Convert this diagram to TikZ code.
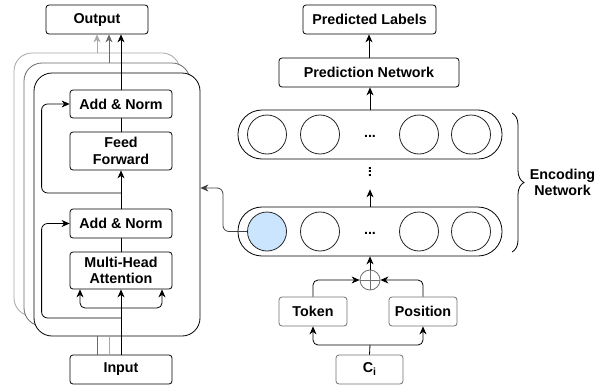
\documentclass[tikz,border=0pt]{standalone}
\usepackage{fontspec}
\setmainfont{Liberation Sans}
\usetikzlibrary{arrows.meta,decorations.pathreplacing}
\definecolor{unitblue}{HTML}{CCE5FF}
\definecolor{backA}{HTML}{A8A8A8}
\definecolor{backB}{HTML}{6A6A6A}
\definecolor{softline}{HTML}{707070}
\tikzset{
  box/.style    = {rectangle, rounded corners=3pt, draw=black, fill=white, inner sep=0pt,
                   minimum width=102pt, align=center, font=\fontsize{14.3}{16.5}\selectfont\bfseries},
  inbox/.style  = {box, draw=softline, minimum width=68pt, minimum height=29pt},
  panel/.style  = {rectangle, rounded corners=18pt, fill=white, inner sep=0pt,
                   minimum width=166pt, minimum height=263pt},
  layer/.style  = {rectangle, rounded corners=24pt, draw=black, fill=white, inner sep=0pt,
                   minimum width=264pt, minimum height=49pt},
  unit/.style   = {circle, draw=black!85, fill=white, minimum size=39pt, inner sep=0pt},
  dots/.style   = {inner sep=0pt, font=\fontsize{14.3}{16.5}\selectfont\bfseries},
  flow/.style   = {-{Stealth[length=8pt,width=7pt,inset=2.5pt]}},
}

\begin{document}
\begin{tikzpicture}[x=1pt, y=-1pt, line width=0.8pt]
      \useasboundingbox (0,0) rectangle (608,391);

      \node[panel, draw=backA] (stack1) at (97,184.5)  {};
      \node[panel, draw=backB] (stack2) at (107,194.5) {};
      \node[panel, draw=black] (stack3) at (117,204.5) {};

      \node[box, minimum height=29pt] (out)   at (97,19.5)   {Output};
      \node[box, minimum height=28pt] (norm2) at (121,104)   {Add \& Norm};
      \node[box, minimum height=38pt] (ffn)   at (121,151)   {Feed\\Forward};
      \node[box, minimum height=29pt] (norm1) at (121,223.5) {Add \& Norm};
      \node[box, minimum height=37pt] (mha)   at (121,270.5) {Multi-Head\\Attention};
      \node[box, minimum height=29pt] (inp)   at (121,369.5) {Input};

      \coordinate (split) at (121,308);
      \coordinate (skip1) at (121,318);
      \coordinate (skip2) at (121,193);

      \draw[flow] (inp.north) -- (mha.south);
      \draw[flow, rounded corners=5pt] (split) -| ([xshift=-41pt]mha.south);
      \draw[flow, rounded corners=5pt] (split) -| ([xshift=41pt]mha.south);
      \draw (mha.north) -- (norm1.south);
      \draw[flow, rounded corners=6pt] (skip1) -| ([xshift=-28pt]norm1.west) -- (norm1.west);
      \draw[flow] (norm1.north) -- (ffn.south);
      \draw (ffn.north) -- (norm2.south);
      \draw[flow, rounded corners=6pt] (skip2) -| ([xshift=-28pt]norm2.west) -- (norm2.west);
      \draw[flow] (norm2.north) -- (norm2.north |- out.south);
      \draw[flow, backB] ([xshift=2pt]stack2.north) -- ([xshift=12pt]out.south);
      \draw[flow, backA] (stack1.north) -- (out.south);
      \draw[backB] ([xshift=-24pt]inp.north) -- ([xshift=-20pt]stack3.south);
      \draw[backA] ([xshift=-12pt]inp.north) -- ([xshift=-8pt]stack3.south);

      \node[box, minimum width=133pt, minimum height=29pt] (labels) at (369.5,19.5) {Predicted Labels};
      \node[box, minimum width=180pt, minimum height=29pt] (pnet)   at (369,72.5)   {Prediction Network};

      \node[layer] (top) at (370,134.5) {};
      \node[unit] (t1) at (267,134.5) {};
      \node[unit] (t2) at (320,134.5) {};
      \node[dots] (tdots) at (370,136) {...};
      \node[unit] (t4) at (419,134.5) {};
      \node[unit] (t5) at (471,134.5) {};

      \node[dots, rotate=90, inner xsep=11pt] (vdots) at (370,172) {...};

      \node[layer] (bottom) at (370,231.5) {};
      \node[unit, fill=unitblue] (b1) at (267,231.5) {};
      \node[unit] (b2) at (320,231.5) {};
      \node[dots] (bdots) at (370,233) {...};
      \node[unit] (b4) at (419,231.5) {};
      \node[unit] (b5) at (471,231.5) {};

      \node[circle, draw=softline, minimum size=20pt, inner sep=0pt] (sum) at (370,280) {};
      \draw[softline] (sum.north) -- (sum.south) (sum.west) -- (sum.east);

      \node[inbox] (token)    at (313,311.5) {Token};
      \node[inbox] (position) at (423,311.5) {Position};
      \node[inbox, minimum width=67pt] (char) at (369.5,369.5) {C\raisebox{-3pt}{\fontsize{10.5}{11}\selectfont i}};
      \coordinate (fork) at (370,345);

      \draw (char.north) -- (fork);
      \draw[flow, rounded corners=5pt] (fork) -| (token.south);
      \draw[flow, rounded corners=5pt] (fork) -| (position.south);
      \draw[flow, rounded corners=5pt] (token.north) |- (sum.west);
      \draw[flow, rounded corners=5pt] (position.north) |- (sum.east);
      \draw[flow] (sum.north) -- (bottom.south);
      \draw[flow] (bottom.north) -- (vdots.west);
      \draw[flow] (top.north) -- (top.north |- pnet.south);
      \draw[flow] (pnet.north) -- (pnet.north |- labels.south);
      \draw[flow, black!75, rounded corners=6pt] (b1.west) -| (223,188) -- (stack3.east |- 0,188);

      \coordinate (brtop) at (512,113);
      \coordinate (brbot) at (512,252);
      \draw[decorate, decoration={brace, amplitude=12pt}] (brtop) -- (brbot);
      \node[dots, align=center] (enc) at (562.5,182.5) {Encoding\\Network};
\end{tikzpicture}
\end{document}
